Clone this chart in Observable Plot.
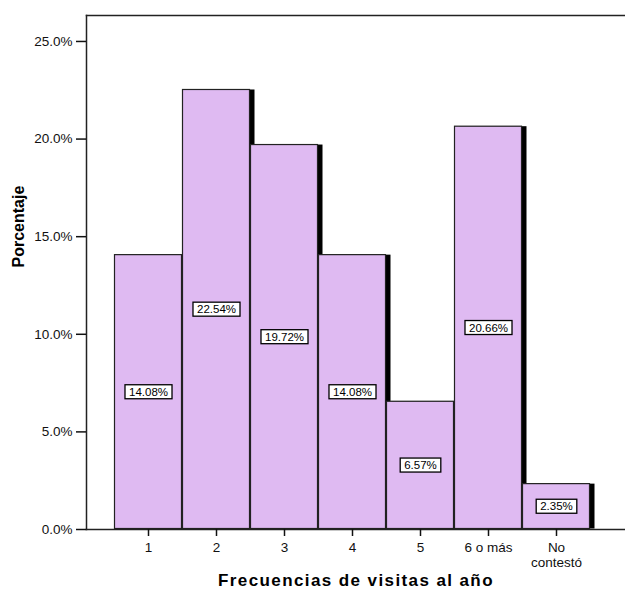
<!DOCTYPE html>
<html><head><meta charset="utf-8">
<script src="https://cdn.jsdelivr.net/npm/d3@7"></script>
<script src="https://cdn.jsdelivr.net/npm/@observablehq/plot@0.6"></script>
<style>body{margin:0;background:#fff} .xtitle text{letter-spacing:1.4px}</style>
</head><body><div id="chart"></div>
<script>
const categories = ["1","2","3","4","5","6 o más","No contestó"];
const tickLabels = ["1","2","3","4","5","6 o más","No\ncontestó"];
const percentages = [14.08,22.54,19.72,14.08,6.57,20.66,2.35];
const yTicks = [0,5,10,15,20,25];

const data = categories.map((c,i)=>({cat:c, value:percentages[i]}));
const font = "Liberation Sans, Arial, sans-serif";

const chart = Plot.plot({
  width:625, height:593,
  marginLeft:86, marginRight:0, marginTop:15, marginBottom:64,
  style:{fontFamily:font, fontSize:"13.5px", color:"#111", background:"#fff"},
  x:{domain:categories, padding:0, insetLeft:26, insetRight:33},
  y:{domain:[0,26.33]},
  marks:[
    Plot.barY(data,{x:"cat", y:"value", fill:"#000", dx:5, inset:0.5}),
    Plot.barY(data,{x:"cat", y:"value", fill:"#dfbaf2", stroke:"#222", strokeWidth:1.2, inset:0.5}),
    Plot.text(data,{x:"cat", y:d=>d.value/2, text:d=>d.value.toFixed(2)+"%", fontSize:11.5, fill:"#000", className:"vlabel"}),
    Plot.frame({anchor:"left", stroke:"#222", strokeWidth:1.5}),
    Plot.frame({anchor:"top", stroke:"#222", strokeWidth:1.5}),
    Plot.frame({anchor:"bottom", stroke:"#222", strokeWidth:1.5}),
    Plot.axisY({ticks:yTicks, tickFormat:d=>d.toFixed(1)+"%", tickSize:10, tickPadding:4, label:null, fontSize:13.5, strokeWidth:1.5}),
    Plot.axisX({tickFormat:(d)=>tickLabels[categories.indexOf(d)], tickSize:7, tickPadding:5, label:null, fontSize:13.5, lineHeight:1.1, strokeWidth:1.5}),
    Plot.text(["Frecuencias de visitas al año"],{frameAnchor:"bottom", dy:56, fontSize:17, fontWeight:"bold", fill:"#000", className:"xtitle"}),
    Plot.text(["Porcentaje"],{frameAnchor:"left", dx:-68, dy:-5, rotate:-90, fontSize:16, fontWeight:"bold", fill:"#000"})
  ]
});
document.getElementById("chart").appendChild(chart);

// white boxes behind the value labels
d3.select(chart).selectAll("g.vlabel text").each(function(){
  const b = this.getBBox();
  const padX = 4, padY = 1;
  const rect = document.createElementNS("http://www.w3.org/2000/svg","rect");
  rect.setAttribute("x", b.x - padX);
  rect.setAttribute("y", b.y - padY);
  rect.setAttribute("width", b.width + 2*padX);
  rect.setAttribute("height", b.height + 2*padY);
  rect.setAttribute("fill", "#fff");
  rect.setAttribute("stroke", "#000");
  rect.setAttribute("stroke-width", "1.3");
  const t = this.getAttribute("transform");
  if (t) rect.setAttribute("transform", t);
  this.parentNode.insertBefore(rect, this);
});
</script></body></html>
